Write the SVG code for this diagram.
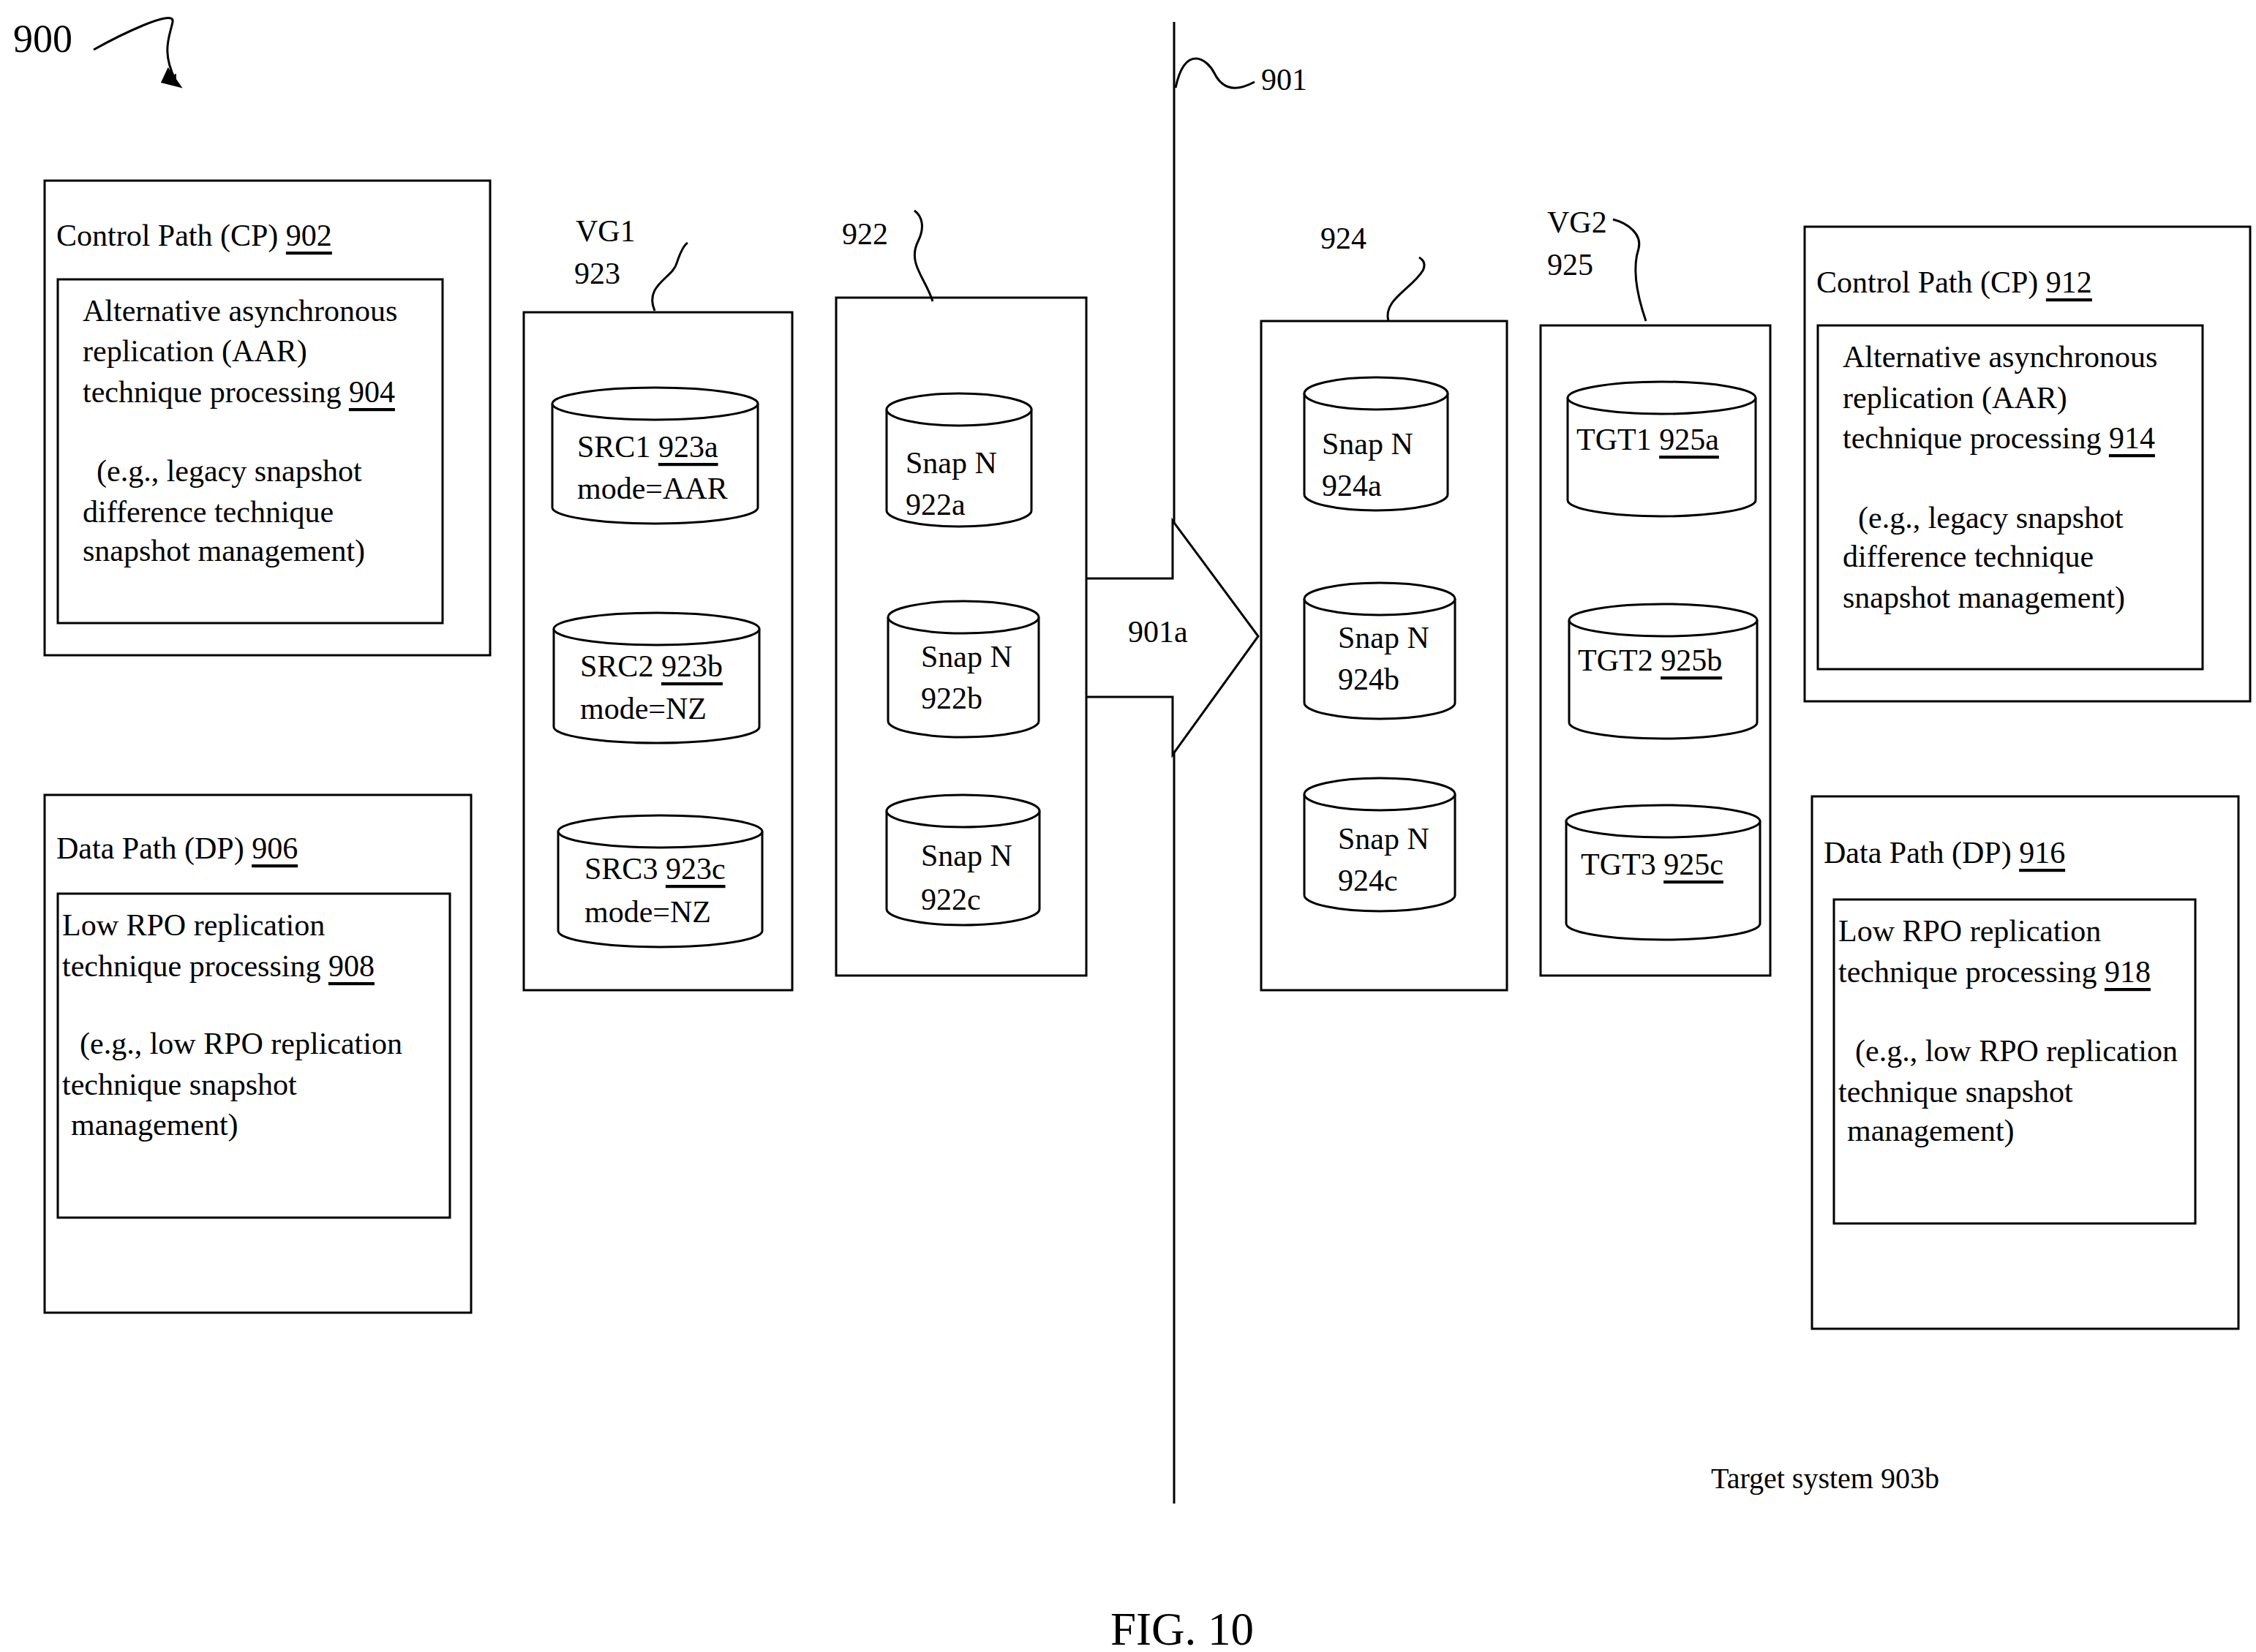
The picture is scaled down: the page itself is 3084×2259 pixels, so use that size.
<svg xmlns="http://www.w3.org/2000/svg" width="3084" height="2259" viewBox="0 0 3084 2259">
<style>
rect,path,ellipse,polygon,line{fill:none;stroke:#000;stroke-width:3}
.c{fill:#fff}
text{font-family:"Liberation Serif","Times New Roman",serif;font-size:42px;fill:#000;dominant-baseline:central}
.u{text-decoration:underline}
</style>
<defs><marker id="ah" markerWidth="10" markerHeight="10" refX="8" refY="5" orient="auto" markerUnits="userSpaceOnUse"><path d="M0,0 L10,5 L0,10 z" style="fill:#000;stroke:none"/></marker></defs>
<rect width="3084" height="2259" style="fill:#fff;stroke:none"/>
<g id="title900"><text x="18" y="53" style="font-size:54px">900</text></g>
<g id="connectors">
<path d="M128,68 C160,50 240,10 236,30 C232,50 220,70 240,110" marker-end="url(#ah)"/>
<path d="M230,95 L246,118 L222,112 z" style="fill:#000"/>
<line x1="1605" y1="30" x2="1605" y2="2056"/>
<path d="M1607,120 C1620,60 1650,80 1660,100 C1675,130 1700,120 1715,112"/>
<path d="M895,425 C880,390 920,380 925,360 C930,345 935,335 940,332"/>
<path d="M1275,412 C1265,380 1240,360 1255,330 C1265,310 1260,295 1250,288"/>
<path d="M1898,439 C1890,410 1930,395 1945,370 C1950,360 1945,355 1940,352"/>
<path d="M2250,439 C2240,410 2230,370 2240,340 C2245,320 2225,305 2205,300"/>
<g id="arrow901a"><path d="M1485,791 H1603 V712 L1720,870 L1603,1032 V953 H1485" style="fill:#fff"/></g>
</g>
<text x="1542" y="864">901a</text>
<text x="1724" y="109">901</text>

<g id="cp902"><rect x="61" y="247" width="609" height="649"/>
<text x="77" y="322">Control Path (CP) <tspan class="u">902</tspan></text>
<rect x="79" y="382" width="526" height="470"/>
<text x="113" y="425">Alternative asynchronous</text>
<text x="113" y="480">replication (AAR)</text>
<text x="113" y="536">technique processing <tspan class="u">904</tspan></text>
<text x="132" y="644">(e.g., legacy snapshot</text>
<text x="113" y="700">difference technique</text>
<text x="113" y="753">snapshot management)</text></g>

<g id="dp906"><rect x="61" y="1087" width="583" height="708"/>
<text x="77" y="1160">Data Path (DP) <tspan class="u">906</tspan></text>
<rect x="79" y="1222" width="536" height="443"/>
<text x="85" y="1265">Low RPO replication</text>
<text x="85" y="1321">technique processing <tspan class="u">908</tspan></text>
<text x="109" y="1427">(e.g., low RPO replication</text>
<text x="85" y="1483">technique snapshot</text>
<text x="97" y="1538">management)</text></g>

<g id="vg1"><rect x="716" y="427" width="367" height="927"/>
<text x="787" y="316">VG1</text><text x="785" y="374">923</text></g>
<g id="src1"><path class="c" d="M755,552 V694 A140.5,22 0 0 0 1036,694 V552"/><ellipse class="c" cx="895.5" cy="552" rx="140.5" ry="22"/>
<text x="789" y="611">SRC1 <tspan class="u">923a</tspan></text><text x="789" y="668">mode=AAR</text></g>
<g id="src2"><path class="c" d="M757,860 V994 A140.5,22 0 0 0 1038,994 V860"/><ellipse class="c" cx="897.5" cy="860" rx="140.5" ry="22"/>
<text x="793" y="911">SRC2 <tspan class="u">923b</tspan></text><text x="793" y="969">mode=NZ</text></g>
<g id="src3"><path class="c" d="M763,1137 V1273 A139.5,22 0 0 0 1042,1273 V1137"/><ellipse class="c" cx="902.5" cy="1137" rx="139.5" ry="22"/>
<text x="799" y="1188">SRC3 <tspan class="u">923c</tspan></text><text x="799" y="1247">mode=NZ</text></g>

<g id="g922"><rect x="1143" y="407" width="342" height="927"/><text x="1151" y="320">922</text></g>
<g id="s922a"><path class="c" d="M1212,560 V698 A99,22 0 0 0 1410,698 V560"/><ellipse class="c" cx="1311" cy="560" rx="99" ry="22"/>
<text x="1238" y="633">Snap N</text><text x="1238" y="690">922a</text></g>
<g id="s922b"><path class="c" d="M1214,844 V986 A103,22 0 0 0 1420,986 V844"/><ellipse class="c" cx="1317" cy="844" rx="103" ry="22"/>
<text x="1259" y="898">Snap N</text><text x="1259" y="955">922b</text></g>
<g id="s922c"><path class="c" d="M1212,1109 V1243 A104.5,22 0 0 0 1421,1243 V1109"/><ellipse class="c" cx="1316.5" cy="1109" rx="104.5" ry="22"/>
<text x="1259" y="1170">Snap N</text><text x="1259" y="1230">922c</text></g>

<g id="g924"><rect x="1724" y="439" width="336" height="915"/><text x="1805" y="326">924</text></g>
<g id="s924a"><path class="c" d="M1783,538 V676 A98,22 0 0 0 1979,676 V538"/><ellipse class="c" cx="1881" cy="538" rx="98" ry="22"/>
<text x="1807" y="607">Snap N</text><text x="1807" y="664">924a</text></g>
<g id="s924b"><path class="c" d="M1783,819 V961 A103,22 0 0 0 1989,961 V819"/><ellipse class="c" cx="1886" cy="819" rx="103" ry="22"/>
<text x="1829" y="872">Snap N</text><text x="1829" y="929">924b</text></g>
<g id="s924c"><path class="c" d="M1783,1086 V1224 A103,22 0 0 0 1989,1224 V1086"/><ellipse class="c" cx="1886" cy="1086" rx="103" ry="22"/>
<text x="1829" y="1147">Snap N</text><text x="1829" y="1204">924c</text></g>

<g id="vg2"><rect x="2106" y="445" width="314" height="889"/><text x="2115" y="304">VG2</text><text x="2115" y="362">925</text></g>
<g id="tgt1"><path class="c" d="M2143,544 V684 A128.5,22 0 0 0 2400,684 V544"/><ellipse class="c" cx="2271.5" cy="544" rx="128.5" ry="22"/>
<text x="2155" y="601">TGT1 <tspan class="u">925a</tspan></text></g>
<g id="tgt2"><path class="c" d="M2145,848 V988 A128.5,22 0 0 0 2402,988 V848"/><ellipse class="c" cx="2273.5" cy="848" rx="128.5" ry="22"/>
<text x="2157" y="903">TGT2 <tspan class="u">925b</tspan></text></g>
<g id="tgt3"><path class="c" d="M2141,1123 V1263 A132.5,22 0 0 0 2406,1263 V1123"/><ellipse class="c" cx="2273.5" cy="1123" rx="132.5" ry="22"/>
<text x="2161" y="1182">TGT3 <tspan class="u">925c</tspan></text></g>

<g id="cp912"><rect x="2467" y="310" width="609" height="649"/>
<text x="2483" y="386">Control Path (CP) <tspan class="u">912</tspan></text>
<rect x="2485" y="445" width="526" height="470"/>
<text x="2519" y="488">Alternative asynchronous</text>
<text x="2519" y="544">replication (AAR)</text>
<text x="2519" y="599">technique processing <tspan class="u">914</tspan></text>
<text x="2540" y="708">(e.g., legacy snapshot</text>
<text x="2519" y="761">difference technique</text>
<text x="2519" y="817">snapshot management)</text></g>

<g id="dp916"><rect x="2477" y="1089" width="583" height="728"/>
<text x="2493" y="1166">Data Path (DP) <tspan class="u">916</tspan></text>
<rect x="2507" y="1230" width="494" height="443"/>
<text x="2513" y="1273">Low RPO replication</text>
<text x="2513" y="1329">technique processing <tspan class="u">918</tspan></text>
<text x="2536" y="1437">(e.g., low RPO replication</text>
<text x="2513" y="1493">technique snapshot</text>
<text x="2525" y="1546">management)</text></g>

<text x="2339" y="2021" style="font-size:40px">Target system 903b</text>
<text x="1518" y="2228" style="font-size:63px">FIG. 10</text>
</svg>
